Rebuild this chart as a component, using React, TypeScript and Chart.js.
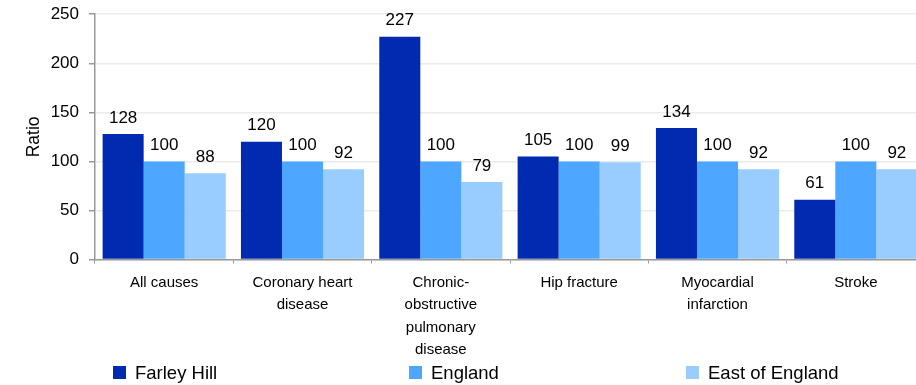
import React, { useEffect, useRef } from "react";
import { Chart, registerables } from "chart.js";

Chart.register(...registerables);

const categories: (string | string[])[] = [
  "All causes",
  ["Coronary heart", "disease"],
  ["Chronic-", "obstructive", "pulmonary", "disease"],
  "Hip fracture",
  ["Myocardial", "infarction"],
  "Stroke",
];
const farleyHill = [128, 120, 227, 105, 134, 61];
const england = [100, 100, 100, 100, 100, 100];
const eastOfEngland = [88, 92, 79, 99, 92, 92];
const seriesNames = ["Farley Hill", "England", "East of England"];
const seriesColors = ["#002BB0", "#4DA6FF", "#99CCFF"];
const yTicks = [0, 50, 100, 150, 200, 250];

const FONT = "'Liberation Sans', Arial, sans-serif";
const SHIFT = 6;

const valueLabels = {
  id: "valueLabels",
  afterDatasetsDraw(chart: any) {
    const ctx = chart.ctx;
    ctx.save();
    ctx.font = `17px ${FONT}`;
    ctx.fillStyle = "#000";
    ctx.textAlign = "center";
    ctx.textBaseline = "middle";
    chart.data.datasets.forEach((ds: any, i: number) => {
      const meta = chart.getDatasetMeta(i);
      meta.data.forEach((bar: any, j: number) => {
        ctx.fillText(String(ds.data[j]), bar.x, bar.y - 16);
      });
    });
    ctx.restore();
  },
};

const customLegend = {
  id: "customLegend",
  afterDraw(chart: any) {
    const ctx = chart.ctx;
    const xs = [113, 409, 686];
    const y = 372.5 + SHIFT;
    ctx.save();
    ctx.font = `18.5px ${FONT}`;
    ctx.textAlign = "left";
    ctx.textBaseline = "middle";
    chart.data.datasets.forEach((ds: any, i: number) => {
      ctx.fillStyle = ds.backgroundColor;
      ctx.fillRect(xs[i], y - 6.5, 13, 13);
      ctx.fillStyle = "#000";
      ctx.fillText(ds.label, xs[i] + 22, y + 1);
    });
    ctx.restore();
  },
};

export default function App() {
  const ref = useRef<HTMLCanvasElement>(null);
  useEffect(() => {
    if (!ref.current) return;
    const data = [farleyHill, england, eastOfEngland];
    const chart = new Chart(ref.current, {
      type: "bar",
      data: {
        labels: categories,
        datasets: data.map((d, i) => ({
          label: seriesNames[i],
          data: d,
          backgroundColor: seriesColors[i],
          borderWidth: 0,
          categoryPercentage: 0.89,
          barPercentage: 1.0,
        })),
      },
      plugins: [valueLabels, customLegend],
      options: {
        animation: false,
        responsive: false,
        maintainAspectRatio: false,
        layout: { padding: { top: 7, right: 0, bottom: 0, left: 0 } },
        plugins: {
          legend: { display: false },
          tooltip: { enabled: false },
          title: { display: false },
        },
        scales: {
          x: {
            afterFit: (s: any) => {
              s.height = 125.5;
            },
            grid: {
              display: true,
              drawOnChartArea: false,
              drawTicks: true,
              tickLength: 4,
              tickColor: "#999",
              offset: true,
            },
            border: { display: true, color: "#999", width: 1.5 },
            ticks: {
              color: "#000",
              padding: 8,
              maxRotation: 0,
              autoSkip: false,
              font: { family: FONT, size: 15, lineHeight: 1.5 },
            },
          },
          y: {
            min: 0,
            max: 250,
            afterFit: (s: any) => {
              s.width = 95;
            },
            afterBuildTicks: (s: any) => {
              s.ticks = yTicks.map((v) => ({ value: v }));
            },
            grid: {
              color: "#EBEBEB",
              lineWidth: 1.5,
              drawTicks: true,
              tickLength: 6,
              tickColor: "#999",
            },
            border: { display: true, color: "#999", width: 1.5 },
            ticks: {
              color: "#000",
              padding: 10,
              font: { family: FONT, size: 17 },
            },
            title: {
              display: true,
              text: "Ratio",
              color: "#000",
              font: { family: FONT, size: 17.5 },
              padding: { top: 24, bottom: 0 },
            },
          },
        },
      },
    });
    return () => chart.destroy();
  }, []);
  return (
    <div
      style={{
        position: "fixed",
        left: 0,
        top: 0,
        width: 916,
        height: 385,
        overflow: "hidden",
        background: "#fff",
      }}
    >
      <canvas
        ref={ref}
        width={925}
        height={385 + SHIFT}
        style={{ display: "block", position: "absolute", left: 0, top: -SHIFT }}
      />
    </div>
  );
}
